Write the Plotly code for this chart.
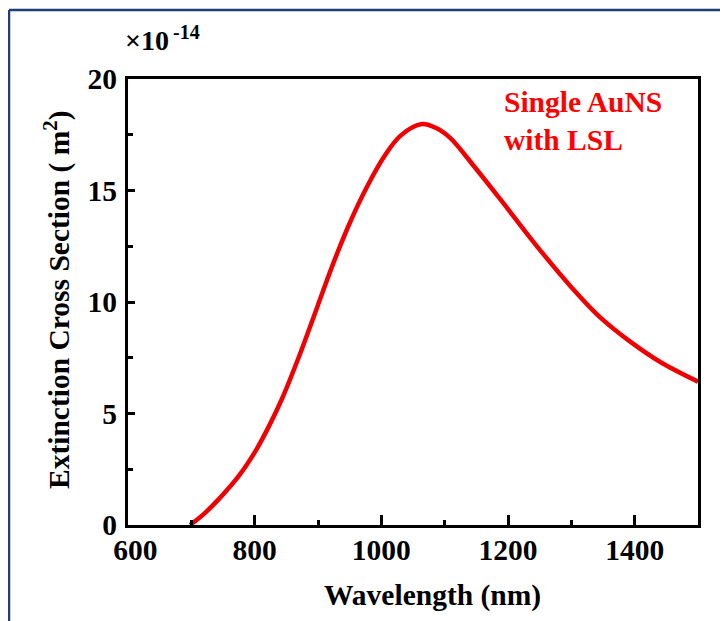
import plotly.graph_objects as go

wavelength = [698, 720, 743, 775, 801, 822, 843, 872, 899, 925, 951, 978, 1004, 1030,
              1064, 1088, 1109, 1146, 1188, 1240, 1299, 1346, 1394, 1441, 1500]
extinction = [0.0, 0.5, 1.15, 2.2, 3.3, 4.4, 5.65, 7.7, 9.79, 11.8, 13.6, 15.2, 16.5, 17.45,
              17.98, 17.78, 17.35, 16.1, 14.6, 12.7, 10.7, 9.3, 8.2, 7.3, 6.43]

x_ticks = [600, 800, 1000, 1200, 1400]
x_ticktext = ["\u2007600", "800", "1000", "1200", "1400"]
y_ticks = [0, 5, 10, 15, 20]

# figure sits at an 8px body offset inside the page
W, H = 720, 613
L, T = 120, 71
R = W - 690
B = H - 517
pw, ph = W - L - R, H - T - B


def px(x):
    return (x - L) / pw


def py(y):
    return (H - B - y) / ph


FONT = "Liberation Serif"
FS = 29.5

fig = go.Figure()
fig.add_trace(go.Scatter(x=wavelength, y=extinction, mode="lines",
                         line=dict(color="#f00000", width=4.5, shape="spline", smoothing=1.0),
                         showlegend=False))

fig.update_layout(
    width=W, height=H,
    margin=dict(l=L, r=R, t=T, b=B),
    paper_bgcolor="white", plot_bgcolor="white",
    font=dict(family=FONT, size=FS, color="black"),
    xaxis=dict(range=[600, 1500], tickvals=x_ticks, ticktext=x_ticktext,
               showgrid=False, zeroline=False, showline=True, mirror=True,
               linecolor="black", linewidth=3, ticks="inside", ticklen=10, tickwidth=2.5,
               tickcolor="black", ticklabelstandoff=-3,
               tickfont=dict(family=FONT, size=FS, weight="bold"),
               minor=dict(tickvals=[700, 900, 1100, 1300], ticks="inside", ticklen=5,
                          tickwidth=2.5, tickcolor="black", showgrid=False)),
    yaxis=dict(range=[0, 20], tickvals=y_ticks, ticktext=[str(v) for v in y_ticks],
               showgrid=False, zeroline=False, showline=True, mirror=True,
               linecolor="black", linewidth=3, ticks="inside", ticklen=7, tickwidth=2.5,
               tickcolor="black", ticklabelstandoff=2,
               tickfont=dict(family=FONT, size=FS, weight="bold"),
               minor=dict(tickvals=[2.5, 7.5, 12.5, 17.5], ticks="inside", ticklen=5,
                          tickwidth=2.5, tickcolor="black", showgrid=False)),
)

fig.add_annotation(text="<b>Wavelength (nm)</b>", xref="paper", yref="paper",
                   x=px(424), y=py(587), showarrow=False,
                   font=dict(family=FONT, size=FS), xanchor="center", yanchor="middle")
fig.add_annotation(text="<b>Extinction Cross Section ( m<sup>2</sup>)</b>", xref="paper", yref="paper",
                   x=px(49), y=py(292), showarrow=False, textangle=-90,
                   font=dict(family=FONT, size=FS), xanchor="center", yanchor="middle")
fig.add_annotation(text="<b>×10</b>", xref="paper", yref="paper",
                   x=px(115), y=py(32), showarrow=False,
                   font=dict(family=FONT, size=28), xanchor="left", yanchor="middle")
fig.add_annotation(text="<b>-14</b>", xref="paper", yref="paper",
                   x=px(163), y=py(24), showarrow=False,
                   font=dict(family=FONT, size=20), xanchor="left", yanchor="middle")
fig.add_annotation(text="<b>Single AuNS<br>with LSL</b>", xref="paper", yref="paper",
                   x=px(494), y=py(76), showarrow=False, align="left",
                   font=dict(family=FONT, size=FS, color="#ff0000"),
                   xanchor="left", yanchor="top")

border = "#1f3d7a"
fig.add_shape(type="line", xref="paper", yref="paper", x0=px(1), x1=px(1), y0=py(2), y1=py(H + 5),
              line=dict(color=border, width=2.5))
fig.add_shape(type="line", xref="paper", yref="paper", x0=px(1), x1=px(W + 5), y0=py(2), y1=py(2),
              line=dict(color=border, width=2.5))

fig.write_html("out.html")
